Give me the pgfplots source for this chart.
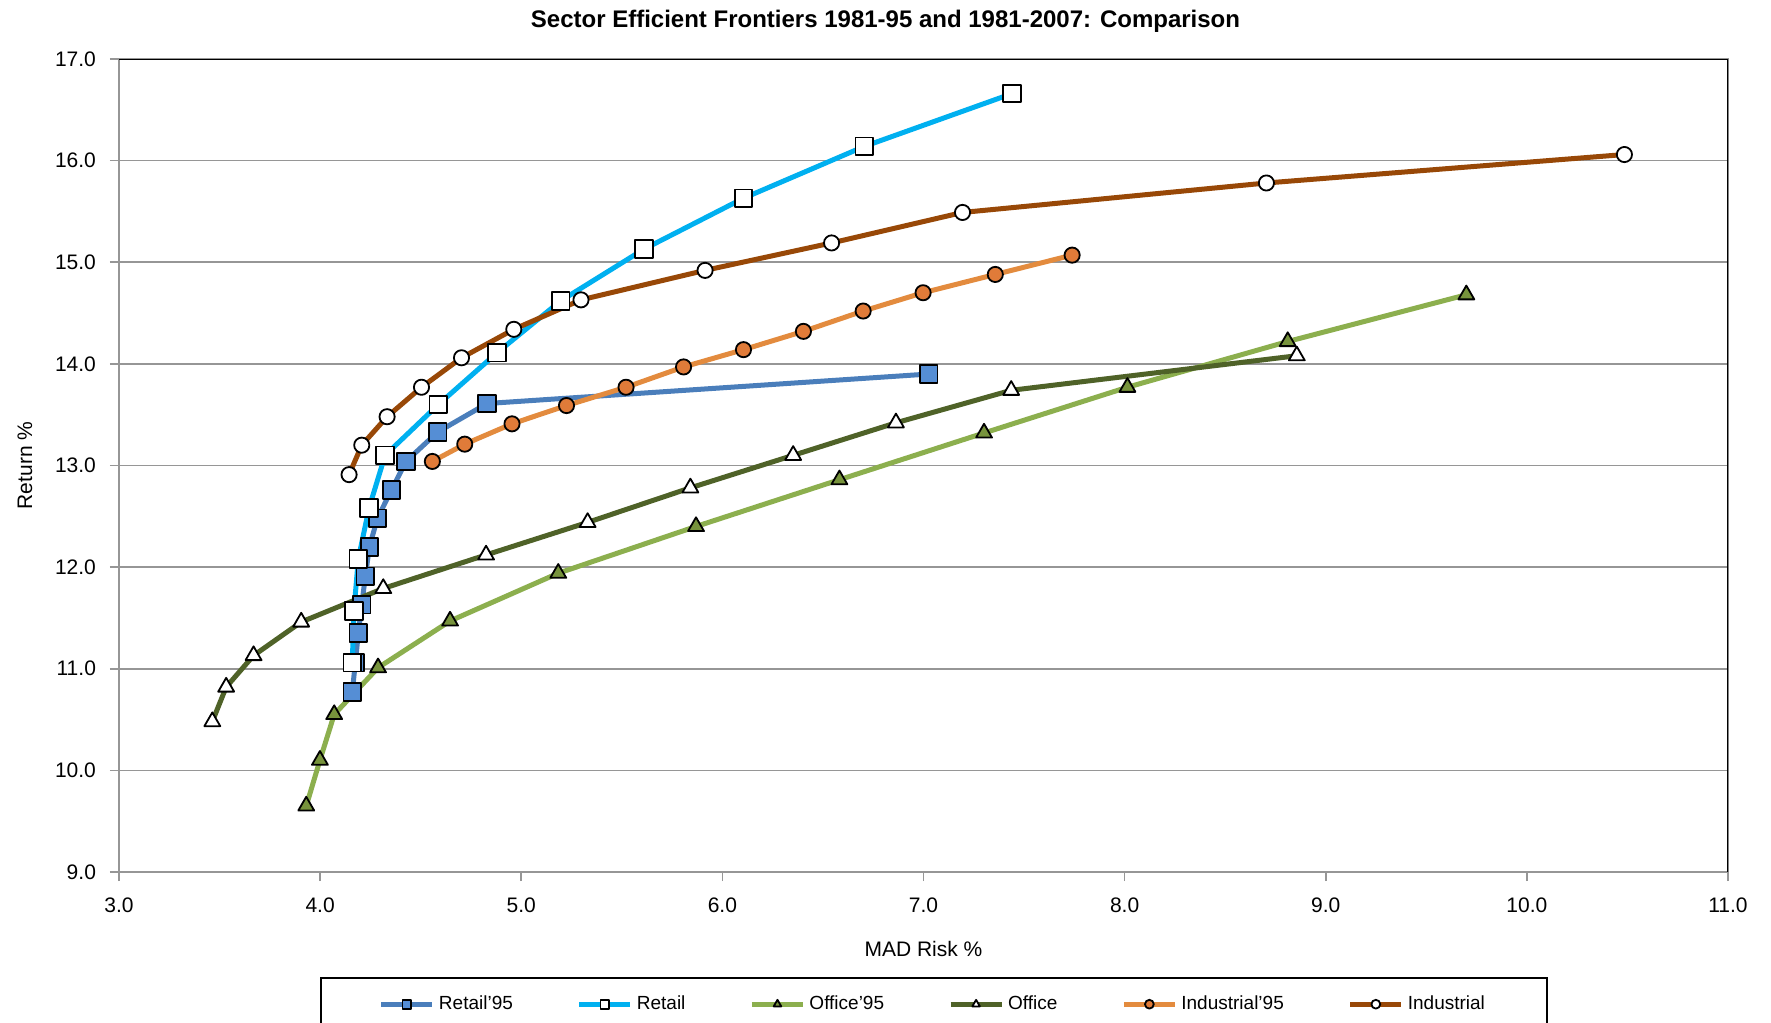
\documentclass[border=0pt]{standalone}
\usepackage{pgfplots}
\pgfplotsset{compat=1.18}
\usepackage{fontspec}
\setmainfont{Liberation Sans}

\definecolor{retailold}{HTML}{4A7EBB}
\definecolor{retailoldfill}{HTML}{558ED5}
\definecolor{retailnew}{HTML}{00B0F0}
\definecolor{officeold}{HTML}{8CAF4E}
\definecolor{officeoldfill}{HTML}{77933C}
\definecolor{officenew}{HTML}{4F6228}
\definecolor{indold}{HTML}{E38B3E}
\definecolor{indoldfill}{HTML}{E07B39}
\definecolor{indnew}{HTML}{984807}
\definecolor{gridgray}{HTML}{969696}

\begin{document}
\begin{tikzpicture}
\path[use as bounding box] (-59.5pt,-75pt) rectangle (826pt,436pt);
\begin{axis}[
    at={(0,0)}, anchor=south west,
    width=804.5pt, height=406.5pt, scale only axis,
    xmin=3, xmax=11, ymin=9, ymax=17,
    xtick distance=1, ytick distance=1,
    tick pos=left, tick align=outside,
    major tick length=4.5pt,
    tick style={gridgray, line width=0.8pt},
    axis line style={gridgray, line width=0.8pt},
    ymajorgrids, grid style={gridgray, line width=0.8pt},
    xticklabel style={yshift=-5pt, /pgf/number format/.cd, fixed, fixed zerofill, precision=1, assume math mode=true},
    yticklabel style={xshift=-3.5pt, /pgf/number format/.cd, fixed, fixed zerofill, precision=1, assume math mode=true},
    ticklabel style={font=\fontsize{10.5}{12}\selectfont},
    title={Sector Efficient Frontiers 1981-95 and 1981-2007: Comparison},
    title style={font=\fontsize{12}{14}\selectfont\bfseries, at={(axis description cs:0.4764,1)}, anchor=center, yshift=13pt},
    xlabel={MAD Risk \%},
    xlabel style={font=\fontsize{10.5}{12}\selectfont, at={(axis description cs:0.5,0)}, anchor=center, yshift=-38.5pt},
    ylabel={Return \%},
    ylabel style={font=\fontsize{10.5}{12}\selectfont, at={(axis description cs:-0.0584,0.5)}, anchor=center},
    legend columns=6,
    legend style={at={(axis description cs:0.5065,-0.1292)}, anchor=north,
        draw=black, line width=0.8pt, font=\fontsize{9.5}{11}\selectfont,
        inner xsep=29pt, inner ysep=7pt,
        /tikz/every even column/.append style={column sep=30pt}},
    legend image code/.code={\draw[mark size=2.2pt, mark repeat=2, mark phase=2]
        plot coordinates {(0pt,0pt) (12.75pt,0pt) (25.5pt,0pt)};},
    every axis plot/.append style={line width=2.5pt, line join=round},
]
% Retail'95
\addplot[retailold, mark=square*, mark size=4.4pt, mark options={solid, draw=black, line width=0.9pt, fill=retailoldfill}] coordinates {
(4.160,10.77) (4.175,11.06) (4.190,11.35) (4.207,11.63) (4.225,11.91) (4.245,12.20)
(4.285,12.48) (4.355,12.76) (4.427,13.04) (4.585,13.33) (4.830,13.61) (7.026,13.90)};
% Retail
\addplot[retailnew, mark=square*, mark size=4.4pt, mark options={solid, draw=black, line width=0.9pt, fill=white}] coordinates {
(4.160,11.06) (4.168,11.57) (4.190,12.08) (4.243,12.58) (4.323,13.10) (4.588,13.60)
(4.880,14.11) (5.196,14.62) (5.611,15.13) (6.105,15.63) (6.706,16.14) (7.441,16.66)};
% Office'95
\addplot[officeold, mark=triangle*, mark size=4.6pt, mark options={solid, draw=black, line width=0.9pt, fill=officeoldfill}] coordinates {
(3.931,9.65) (3.999,10.10) (4.070,10.55) (4.288,11.01) (4.646,11.47) (5.184,11.94)
(5.869,12.40) (6.582,12.86) (7.301,13.32) (8.014,13.77) (8.811,14.22) (9.699,14.68)};
% Office
\addplot[officenew, mark=triangle*, mark size=4.6pt, mark options={solid, draw=black, line width=0.9pt, fill=white}] coordinates {
(3.464,10.48) (3.533,10.82) (3.669,11.13) (3.906,11.46) (4.314,11.79) (4.825,12.12)
(5.330,12.44) (5.841,12.78) (6.352,13.10) (6.863,13.42) (7.436,13.74) (8.856,14.08)};
% Industrial'95
\addplot[indold, mark=*, mark size=3.8pt, mark options={solid, draw=black, line width=0.9pt, fill=indoldfill}] coordinates {
(4.558,13.04) (4.719,13.21) (4.954,13.41) (5.225,13.59) (5.521,13.77) (5.807,13.97)
(6.105,14.14) (6.403,14.32) (6.700,14.52) (6.998,14.70) (7.357,14.88) (7.739,15.07)};
% Industrial
\addplot[indnew, mark=*, mark size=3.8pt, mark options={solid, draw=black, line width=0.9pt, fill=white}] coordinates {
(4.144,12.91) (4.207,13.20) (4.333,13.48) (4.504,13.77) (4.703,14.06) (4.963,14.34)
(5.297,14.63) (5.914,14.92) (6.543,15.19) (7.194,15.49) (8.705,15.78) (10.485,16.06)};
\legend{Retail'95, Retail, Office'95, Office, Industrial'95, Industrial}
\draw[black, line width=1pt] (rel axis cs:0,1) -- (rel axis cs:1,1) -- (rel axis cs:1,0);
\end{axis}
\end{tikzpicture}
\end{document}
